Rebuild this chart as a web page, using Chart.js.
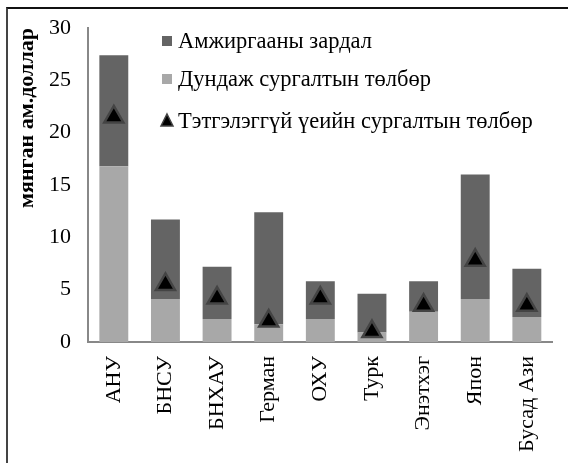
<!DOCTYPE html>
<html>
<head>
<meta charset="utf-8">
<script src="https://cdn.jsdelivr.net/npm/chart.js@4"></script>
<style>
  html, body { margin: 0; padding: 0; background: #fff; }
  #wrap { position: relative; width: 568px; height: 463px; overflow: hidden; }
  #frame { position: absolute; left: 6px; top: 7px; width: 600px; height: 500px;
           border-left: 2px solid #444; border-top: 2px solid #111; }
  canvas { position: absolute; left: 0; top: 0; }
</style>
</head>
<body>
<div id="wrap">
  <div id="frame"></div>
  <canvas id="chart" width="568" height="463"></canvas>
</div>
<script>
// Улс орнууд
const countries = ['АНУ', 'БНСУ', 'БНХАУ', 'Герман', 'ОХУ', 'Турк', 'Энэтхэг', 'Япон', 'Бусад Ази'];

// мянган ам.доллар
const tuition = [16.8, 4.1, 2.2, 1.7, 2.2, 0.9, 2.9, 4.1, 2.4];          // Дундаж сургалтын төлбөр
const living = [10.6, 7.6, 5.0, 10.7, 3.6, 3.7, 2.9, 11.9, 4.6];        // Амжиргааны зардал
const noScholarship = [21.5, 5.5, 4.2, 2.0, 4.2, 1.0, 3.5, 7.8, 3.5];   // Тэтгэлэггүй үеийн сургалтын төлбөр

const yTicks = [0, 5, 10, 15, 20, 25, 30];

const FONT = "'Liberation Serif', 'Times New Roman', serif";
const LIGHT = '#a8a8a8';
const DARK = '#646464';

// legend inside the plot, top right
const innerLegend = {
    id: 'innerLegend',
    afterDraw(chart) {
        const ctx = chart.ctx;
        const ds = chart.data.datasets;
        const items = [ds[1], ds[0], ds[2]];
        const x = 162, rows = [41, 79, 121];
        ctx.save();
        ctx.font = '22.5px ' + FONT;
        ctx.textBaseline = 'middle';
        ctx.fillStyle = '#000';
        items.forEach((d, i) => {
            const y = rows[i];
            if (d.type === 'line') {
                ctx.beginPath();
                ctx.moveTo(x + 5, y - 7);
                ctx.lineTo(x + 11, y + 5);
                ctx.lineTo(x - 1, y + 5);
                ctx.closePath();
                ctx.fillStyle = '#000';
                ctx.fill();
                ctx.strokeStyle = '#444';
                ctx.lineWidth = 1.5;
                ctx.stroke();
            } else {
                ctx.fillStyle = d.backgroundColor;
                ctx.fillRect(x, y - 5, 10, 10);
            }
            ctx.fillStyle = '#000';
            ctx.fillText(d.label, x + 16, y + 1);
        });
        ctx.restore();
    }
};

new Chart(document.getElementById('chart'), {
    data: {
        labels: countries,
        datasets: [
            {
                type: 'bar',
                label: 'Дундаж сургалтын төлбөр',
                data: tuition,
                backgroundColor: LIGHT,
                stack: 'cost',
                order: 1,
                barPercentage: 0.56,
                categoryPercentage: 1
            },
            {
                type: 'bar',
                label: 'Амжиргааны зардал',
                data: living,
                backgroundColor: DARK,
                stack: 'cost',
                order: 1,
                barPercentage: 0.56,
                categoryPercentage: 1
            },
            {
                type: 'line',
                label: 'Тэтгэлэггүй үеийн сургалтын төлбөр',
                data: noScholarship,
                stack: 'marks',
                order: 0,
                showLine: false,
                pointStyle: 'triangle',
                pointRadius: 11,
                pointBackgroundColor: '#000',
                pointBorderColor: '#444',
                pointBorderWidth: 2.5
            }
        ]
    },
    options: {
        responsive: false,
        animation: false,
        layout: { padding: { left: 8, top: 28, right: 13, bottom: 0 } },
        plugins: { legend: { display: false }, tooltip: { enabled: false } },
        scales: {
            x: {
                stacked: true,
                grid: { display: false, drawTicks: false },
                border: { color: '#888', width: 2 },
                ticks: {
                    color: '#000',
                    font: { family: FONT, size: 22 },
                    minRotation: 90,
                    maxRotation: 90,
                    padding: 14
                },
                afterFit(scale) { scale.height = 121; }
            },
            y: {
                stacked: true,
                min: 0,
                max: 30,
                afterBuildTicks(scale) { scale.ticks = yTicks.map(v => ({ value: v })); },
                grid: { display: false, drawTicks: true, tickLength: 7, tickColor: '#888' },
                border: { color: '#888', width: 2 },
                ticks: {
                    color: '#000',
                    font: { family: FONT, size: 22 },
                    padding: 10
                },
                title: {
                    display: true,
                    align: 'end',
                    text: 'мянган ам.доллар',
                    color: '#000',
                    font: { family: FONT, size: 22, weight: 'bold' },
                    padding: { top: 6, bottom: 4 }
                },
                afterFit(scale) { scale.width = 80; }
            }
        }
    },
    plugins: [innerLegend]
});
</script>
</body>
</html>
